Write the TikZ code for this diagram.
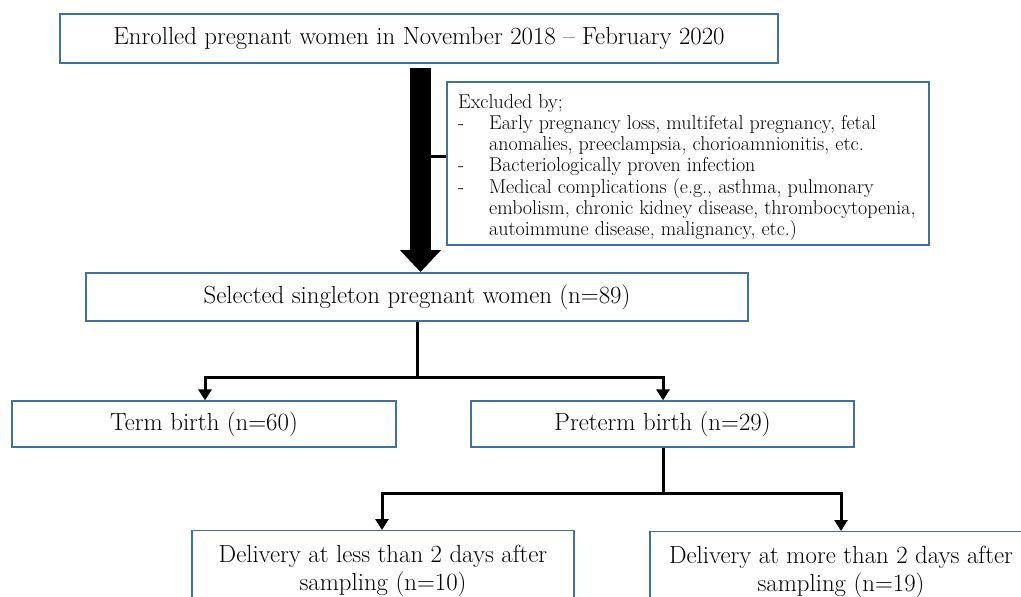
\documentclass[tikz,border=0pt]{standalone}
\usetikzlibrary{arrows.meta,calc}
\definecolor{boxblue}{RGB}{65,113,156}
\begin{document}
\begin{tikzpicture}[x=1pt,y=-1pt,
  box/.style={draw=boxblue,line width=1.2pt,fill=white,inner sep=0pt,align=center,
    font=\fontsize{24.8}{28}\selectfont},
  conn/.style={line width=3pt,-{Triangle[width=13pt,length=11pt]}},
  trunk/.style={line width=3pt},
  small/.style={font=\fontsize{20}{21}\selectfont}]
\clip (0,0) rectangle (1021,597);
\fill[white] (0,0) rectangle (1021,597);
% boxes
\node[box,minimum width=718pt,minimum height=49pt] (enr) at (419,38.5)
  {Enrolled pregnant women in November 2018 -- February 2020};
\node[box,minimum width=482pt,minimum height=163pt] (exc) at (688,163.5) {};
\node[small,anchor=north west,inner sep=0pt,align=left] (exctext) at (458,94)
  {\begin{tabular}{@{}p{31pt}@{}l@{}}
    \multicolumn{2}{@{}l@{}}{Excluded by;}\\
    - & Early pregnancy loss, multifetal pregnancy, fetal\\
      & anomalies, preeclampsia, chorioamnionitis, etc.\\
    - & Bacteriologically proven infection\\
    - & Medical complications (e.g., asthma, pulmonary\\
      & embolism, chronic kidney disease, thrombocytopenia,\\
      & autoimmune disease, malignancy, etc.)
   \end{tabular}};
\node[box,minimum width=662pt,minimum height=48pt] (sel) at (417,297)
  {Selected singleton pregnant women (n=89)};
\node[box,minimum width=384pt,minimum height=46pt] (term) at (204,424)
  {Term birth (n=60)};
\node[box,minimum width=383pt,minimum height=46pt] (pre) at (662.5,424)
  {Preterm birth (n=29)};
\node[box,minimum width=382pt,minimum height=80pt,anchor=north] (less) at (383,530)
  {Delivery at less than 2 days after\\ sampling (n=10)};
\node[box,minimum width=382pt,minimum height=80pt,anchor=north] (more) at (841,531)
  {Delivery at more than 2 days after\\ sampling (n=19)};
% big arrow
\coordinate (atop) at (420.5,68);
\coordinate (abot) at (420.5,272);
\draw[line width=21pt,-{Triangle[width=40pt,length=22pt]}] (atop) -- (abot);
\coordinate (jx) at (425,156);
\draw[trunk] (jx) -- (jx -| exc.west);
% branching
\coordinate (j1) at ($(sel.south)+(0,56)$);
\draw[trunk] (sel.south) -- (j1);
\draw[conn] (j1) -| ($(term.north)+(1,0)$);
\draw[conn] (j1) -| ($(pre.north)+(0.5,0)$);
\coordinate (j2) at ($(pre.south)+(0.5,46)$);
\draw[trunk] ($(pre.south)+(0.5,0)$) -- (j2);
\draw[conn] (j2) -| ($(less.north)+(-1,0)$);
\draw[conn] (j2) -| (more.north);
\end{tikzpicture}
\end{document}
